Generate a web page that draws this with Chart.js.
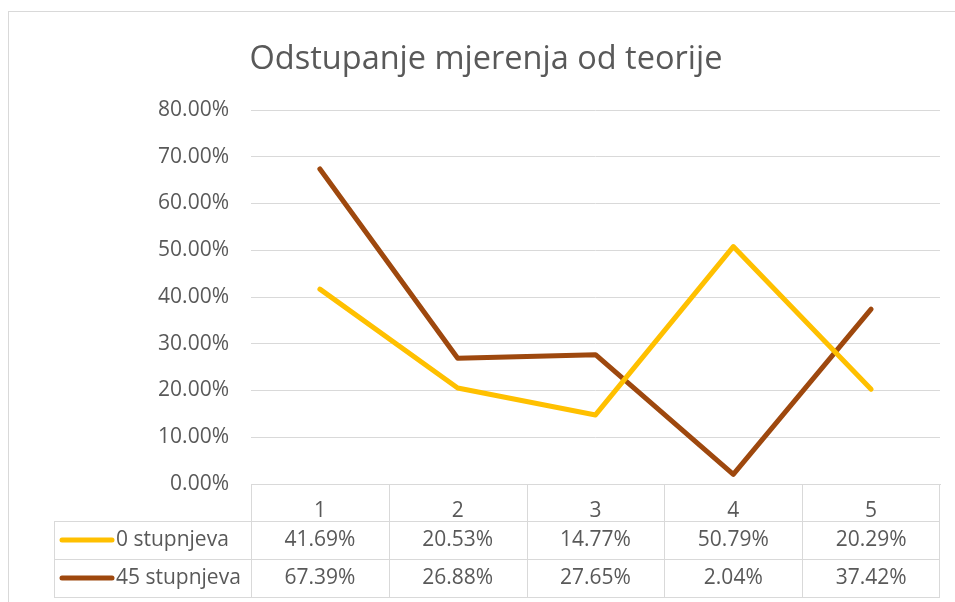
<!DOCTYPE html>
<html>
<head>
<meta charset="utf-8">
<title>Odstupanje mjerenja od teorije</title>
<script src="https://cdn.jsdelivr.net/npm/chart.js@4/dist/chart.umd.min.js"></script>
<style>
    html, body { margin: 0; padding: 0; background: #ffffff; }
    #myChart { display: block; }
</style>
</head>
<body>
<canvas id="myChart" width="955" height="602"></canvas>
<script>
"use strict";
// data
var categories = ['1', '2', '3', '4', '5'];
var seriesNames = ['0 stupnjeva', '45 stupnjeva'];
var values0 = [41.69, 20.53, 14.77, 50.79, 20.29];
var values45 = [67.39, 26.88, 27.65, 2.04, 37.42];
var yTicks = [0, 10, 20, 30, 40, 50, 60, 70, 80];
var seriesColors = ['#FFC000', '#9E480E'];

var textColor = '#595959';
var gridColor = '#D9D9D9';
var fontFamily = "'Open Sans', 'Liberation Sans', sans-serif";

function pct(v) {
    return v.toFixed(2) + '%';
}

// outer frame + data table under the x axis
var tablePlugin = {
    id: 'dataTable',
    beforeDraw: function (chart) {
        var ctx = chart.ctx;
        ctx.save();
        ctx.strokeStyle = gridColor;
        ctx.lineWidth = 1;
        ctx.strokeRect(8.5, 11.5, 1000, 700);
        ctx.restore();
    },
    afterDraw: function (chart) {
        var ctx = chart.ctx;
        var x = chart.scales.x;
        var area = chart.chartArea;
        var rowH = 38;
        var tableTop = x.bottom + 1;
        var tableBottom = tableTop + rowH * seriesNames.length;
        var legendLeft = 54;
        var half = (x.getPixelForValue(1) - x.getPixelForValue(0)) / 2;
        var rows = [values0, values45];

        ctx.save();
        ctx.strokeStyle = gridColor;
        ctx.lineWidth = 1;
        ctx.beginPath();
        // vertical cell lines
        for (var i = 0; i <= categories.length; i++) {
            var vx = Math.round(area.left + i * half * 2) + 0.5;
            if (i === categories.length) vx = Math.round(area.right) - 0.5;
            ctx.moveTo(vx, area.bottom);
            ctx.lineTo(vx, tableBottom);
        }
        ctx.moveTo(legendLeft + 0.5, tableTop);
        ctx.lineTo(legendLeft + 0.5, tableBottom);
        // horizontal row lines
        for (var r = 0; r <= rows.length; r++) {
            var hy = Math.round(tableTop + r * rowH) + 0.5;
            ctx.moveTo(legendLeft, hy);
            ctx.lineTo(area.right, hy);
        }
        ctx.stroke();

        ctx.font = '21px ' + fontFamily;
        ctx.fillStyle = textColor;
        ctx.textBaseline = 'middle';
        for (var s = 0; s < rows.length; s++) {
            var cy = tableTop + rowH * s + rowH / 2;
            // legend key
            ctx.strokeStyle = seriesColors[s];
            ctx.lineWidth = 5;
            ctx.lineCap = 'round';
            ctx.beginPath();
            ctx.moveTo(legendLeft + 8, cy);
            ctx.lineTo(legendLeft + 58, cy);
            ctx.stroke();
            ctx.textAlign = 'left';
            ctx.fillText(seriesNames[s], legendLeft + 62, cy);
            ctx.textAlign = 'center';
            for (var c = 0; c < categories.length; c++) {
                ctx.fillText(pct(rows[s][c]), x.getPixelForValue(c), cy);
            }
        }
        ctx.restore();
    }
};

var ctx = document.getElementById('myChart');
var myChart = new Chart(ctx, {
    type: 'line',
    data: {
        labels: categories,
        datasets: [{
            label: seriesNames[0],
            data: values0,
            borderColor: seriesColors[0],
            backgroundColor: seriesColors[0]
        }, {
            label: seriesNames[1],
            data: values45,
            borderColor: seriesColors[1],
            backgroundColor: seriesColors[1]
        }]
    },
    options: {
        responsive: false,
        animation: false,
        devicePixelRatio: 1,
        layout: {
            padding: { left: 32, right: 15, top: 0, bottom: 82 }
        },
        elements: {
            line: { borderWidth: 5, tension: 0, borderCapStyle: 'round', borderJoinStyle: 'round' },
            point: { radius: 0, hoverRadius: 0 }
        },
        plugins: {
            legend: { display: false },
            tooltip: { enabled: false },
            title: {
                display: true,
                text: 'Odstupanje mjerenja od teorije',
                color: textColor,
                font: { family: fontFamily, size: 32.5, weight: 'normal', lineHeight: 1.2 },
                padding: { top: 40, bottom: 31 }
            }
        },
        scales: {
            x: {
                offset: true,
                grid: { display: false },
                border: { display: true, color: gridColor },
                ticks: { color: textColor, padding: 6, font: { family: fontFamily, size: 21 } },
                afterFit: function (scale) { scale.height = 36; }
            },
            y: {
                min: 0,
                max: 80,
                afterBuildTicks: function (scale) {
                    scale.ticks = yTicks.map(function (v) { return { value: v }; });
                },
                grid: { color: gridColor, drawTicks: false },
                border: { display: false },
                ticks: {
                    color: textColor,
                    padding: 22,
                    font: { family: fontFamily, size: 21 },
                    callback: function (v) { return pct(v); }
                },
                afterFit: function (scale) { scale.width = 219; }
            }
        }
    },
    plugins: [tablePlugin]
});
</script>
</body>
</html>
